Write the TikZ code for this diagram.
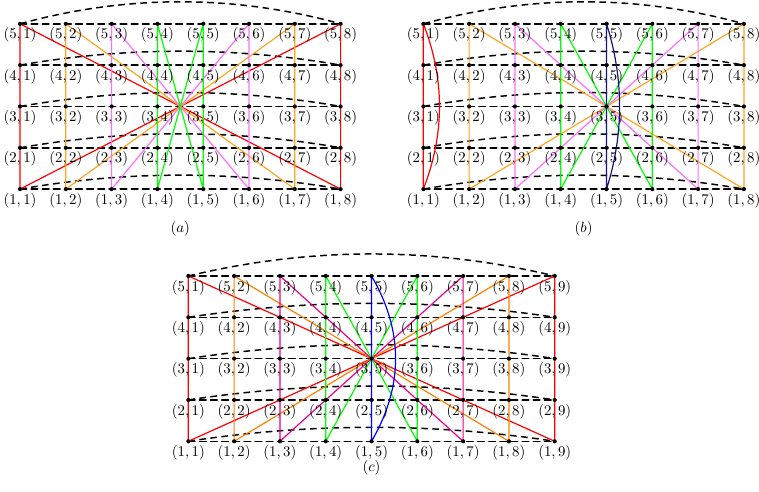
\documentclass[tikz,border=0pt]{standalone}
\usetikzlibrary{positioning}
\definecolor{lorange}{RGB}{255,165,30}
\definecolor{lpink}{RGB}{255,110,255}
\definecolor{navy}{RGB}{20,20,130}
\tikzset{
  gridline/.style={line width=1pt,dash pattern=on 4.5pt off 3pt},
  link/.style={line width=0.8pt},
  lab/.style={below=0.5pt,inner sep=2pt},
}
\begin{document}
\begin{tikzpicture}[x=1.085cm,y=0.979cm,line join=round,line cap=round,font=\fontsize{10.4}{12}\selectfont]
 \useasboundingbox (0.563,-6.312) rectangle (17.135,5.576);
 % the three grids: name / columns / shift
 \foreach \p/\n/\dx/\dy in {a/8/0/0,b/8/8.806/0,c/9/3.675/-6.102}{
  \begin{scope}[shift={(\dx,\dy)}]
   \foreach \r in {1,...,5} \foreach \c in {1,...,\n}
     \coordinate (\p\r\c) at (\c,\r);
   \pgfmathsetmacro{\cx}{(\n-1)/3}
   \foreach \r in {1,...,5}{
     \ifnum\r=5 \def\hh{0.71}\else\def\hh{0.45}\fi
     \draw[gridline] (\p\r1) -- (\p\r\n);
     \draw[gridline,line cap=butt] (\p\r1) .. controls +(\cx,\hh) and +(-\cx,\hh) .. (\p\r\n);
   }
  \end{scope}
 }
 % (a)
 \draw[link,red] (a51)--(a11) (a58)--(a18) (a51)--(a18) (a11)--(a58);
 \draw[link,lorange] (a52)--(a12) (a57)--(a17) (a52)--(a17) (a12)--(a57);
 \draw[link,lpink] (a53)--(a13) (a56)--(a16) (a53)--(a16) (a13)--(a56);
 \draw[link,green] (a54)--(a14) (a55)--(a15) (a54)--(a15) (a14)--(a55);
 % (b)
 \draw[link,red] (b51)--(b11) (b51) .. controls +(0.47,-1.33) and +(0.47,1.33) .. (b11);
 \draw[link,lorange] (b52)--(b12) (b58)--(b18) (b52)--(b18) (b12)--(b58);
 \draw[link,lpink] (b53)--(b13) (b57)--(b17) (b53)--(b17) (b13)--(b57);
 \draw[link,green] (b54)--(b14) (b56)--(b16) (b54)--(b16) (b14)--(b56);
 \draw[link,navy] (b55)--(b15) (b55) .. controls +(0.38,-1.33) and +(0.38,1.33) .. (b15);
 % (c)
 \draw[link,red] (c51)--(c11) (c59)--(c19) (c51)--(c19) (c11)--(c59);
 \draw[link,orange] (c52)--(c12) (c58)--(c18) (c52)--(c18) (c12)--(c58);
 \draw[link,magenta] (c53)--(c13) (c57)--(c17) (c53)--(c17) (c13)--(c57);
 \draw[link,green] (c54)--(c14) (c56)--(c16) (c54)--(c16) (c14)--(c56);
 \draw[link,blue] (c55)--(c15) (c55) .. controls +(0.7,-1.33) and +(0.7,1.33) .. (c15);
 % dots and labels
 \foreach \p/\n in {a/8,b/8,c/9}
  \foreach \r in {1,...,5} \foreach \c in {1,...,\n}{
   \fill (\p\r\c) circle (1.4pt);
   \node[lab] (l\p\r\c) at (\p\r\c) {$(\r,\c)$};
  }
 \node (capa) at (4.5,0.03) {$(a)$};
 \node (capb) at (13.306,0.03) {$(b)$};
 \node (capc) at (8.675,-5.75) {$(c)$};
\end{tikzpicture}
\end{document}
